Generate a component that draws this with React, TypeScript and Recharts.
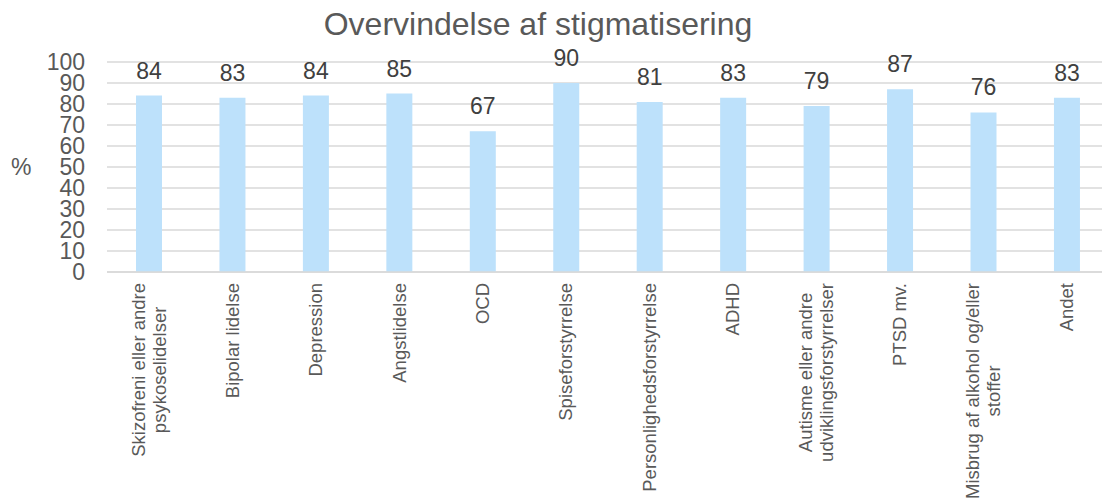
import { Bar, BarChart, CartesianGrid, LabelList, XAxis, YAxis } from 'recharts';

const categories = [
  'Skizofreni eller andre\npsykoselidelser',
  'Bipolar lidelse',
  'Depression',
  'Angstlidelse',
  'OCD',
  'Spiseforstyrrelse',
  'Personlighedsforstyrrelse',
  'ADHD',
  'Autisme eller andre\nudviklingsforstyrrelser',
  'PTSD mv.',
  'Misbrug af alkohol og/eller\nstoffer',
  'Andet',
];
const values = [84, 83, 84, 85, 67, 90, 81, 83, 79, 87, 76, 83];
const yTicks = [0, 10, 20, 30, 40, 50, 60, 70, 80, 90, 100];

const data = categories.map((name, i) => ({ name, value: values[i] }));

const FONT = '"Liberation Sans", Arial, sans-serif';
const GREY = '#595959';
const TICK_SIZE = 18.5;

let ctx: CanvasRenderingContext2D | null = null;
function textWidth(s: string) {
  if (!ctx) {
    ctx = document.createElement('canvas').getContext('2d');
    if (ctx) ctx.font = `${TICK_SIZE}px ${FONT}`;
  }
  return ctx ? ctx.measureText(s).width : s.length * TICK_SIZE * 0.5;
}

function CategoryTick({ x, y, payload }: any) {
  const lines: string[] = String(payload.value).split('\n');
  const w = Math.max(...lines.map(textWidth));
  const lh = 21;
  return (
    <g transform={`translate(${x},${y}) rotate(-90)`}>
      {lines.map((line, i) => (
        <text
          key={i}
          x={-w / 2}
          y={(i - (lines.length - 1) / 2) * lh}
          textAnchor="middle"
          dominantBaseline="central"
          fontSize={TICK_SIZE}
          fontFamily={FONT}
          fill={GREY}
        >
          {line}
        </text>
      ))}
    </g>
  );
}

export default function App() {
  return (
    <div style={{ position: 'absolute', left: 0, top: 0, width: 1102, height: 504, overflow: 'hidden', background: '#fff' }}>
      <div
        style={{
          position: 'absolute',
          left: 0,
          top: 8,
          width: 1076,
          textAlign: 'center',
          fontFamily: FONT,
          fontSize: 32,
          lineHeight: '32px',
          color: GREY,
        }}
      >
        Overvindelse af stigmatisering
      </div>
      <BarChart
        width={1110}
        height={504}
        data={data}
        margin={{ top: 62, right: 1.6, left: 0, bottom: 0 }}
        style={{ fontFamily: FONT }}
      >
        <CartesianGrid vertical={false} stroke="#d9d9d9" strokeWidth={1.5} />
        <XAxis
          dataKey="name"
          interval={0}
          height={232}
          tickLine={false}
          tickSize={0}
          tickMargin={11}
          axisLine={{ stroke: '#d9d9d9', strokeWidth: 1.5 }}
          tick={<CategoryTick />}
        />
        <YAxis
          width={107}
          domain={[0, 100]}
          ticks={yTicks}
          interval={0}
          axisLine={false}
          tickLine={false}
          tickSize={0}
          tickMargin={22}
          tick={{ fill: GREY, fontSize: 23, fontFamily: FONT }}
          label={{ value: '%', position: 'insideLeft', offset: 11, fill: GREY, fontSize: 23, fontFamily: FONT }}
        />
        <Bar dataKey="value" fill="#bde1fb" barSize={26} isAnimationActive={false}>
          <LabelList dataKey="value" position="top" offset={17} fill="#404040" fontSize={23} fontFamily={FONT} />
        </Bar>
      </BarChart>
    </div>
  );
}
